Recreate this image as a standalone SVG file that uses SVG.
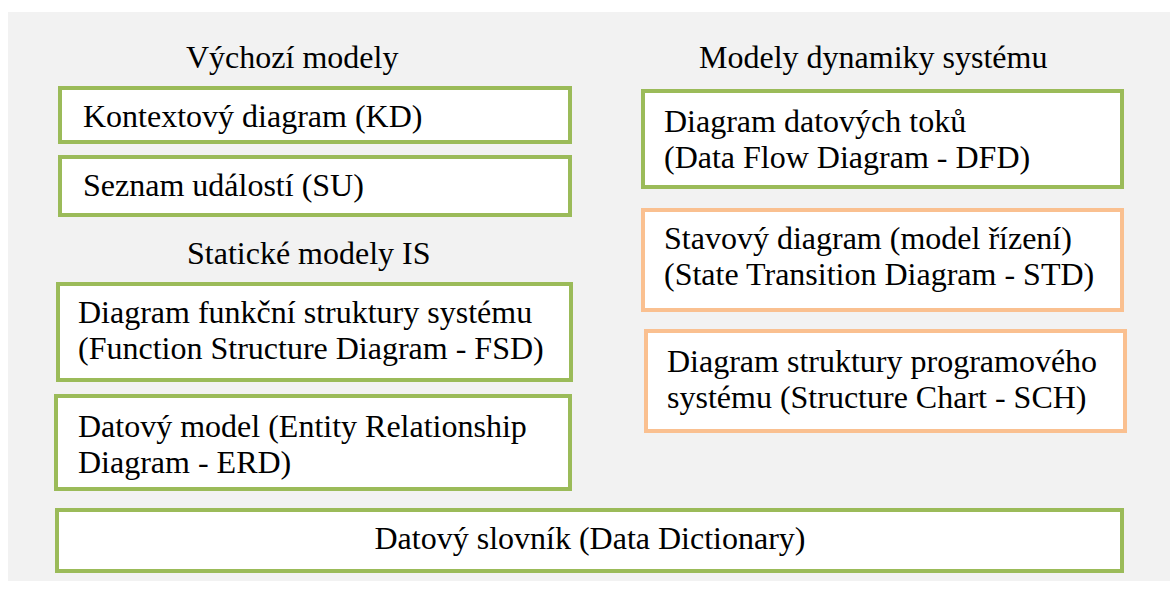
<svg xmlns="http://www.w3.org/2000/svg" width="1170" height="590" viewBox="0 0 1170 590">
<style>
  .t { font-family: 'Liberation Serif', 'Times New Roman', Times, serif; font-size: 32px; fill: #000; }
  .box { fill: #fff; stroke-width: 4; }
  .g { stroke: #9BBB59; }
  .o { stroke: #FAC090; }
  .c { text-anchor: middle; }
</style>
<rect x="0" y="0" width="1170" height="590" fill="#fff"/>
<rect x="8" y="12" width="1162" height="569" fill="#F2F2F2"/>
<g class="t" font-family="Liberation Serif, serif">
<g id="titles">
  <text x="186" y="68">Výchozí modely</text>
  <text x="187" y="264">Statické modely IS</text>
  <text x="699" y="68">Modely dynamiky systému</text>
</g>
<g id="kd">
  <rect class="box g" x="60" y="88" width="510" height="54"/>
  <text x="83" y="127">Kontextový diagram (KD)</text>
</g>
<g id="su">
  <rect class="box g" x="60" y="157" width="510" height="58"/>
  <text x="83" y="196">Seznam událostí (SU)</text>
</g>
<g id="fsd">
  <rect class="box g" x="58" y="284" width="513" height="96"/>
  <text x="78" y="323">Diagram funkční struktury systému</text>
  <text x="78" y="359">(Function Structure Diagram - FSD)</text>
</g>
<g id="erd">
  <rect class="box g" x="56" y="396" width="514" height="93"/>
  <text x="78" y="437">Datový model (Entity Relationship</text>
  <text x="78" y="473">Diagram - ERD)</text>
</g>
<g id="dd">
  <rect class="box g" x="57" y="510" width="1065" height="61"/>
  <text class="c" x="590" y="549">Datový slovník (Data Dictionary)</text>
</g>
<g id="dfd">
  <rect class="box g" x="643" y="91" width="479" height="96"/>
  <text x="664" y="132">Diagram datových toků</text>
  <text x="664" y="168">(Data Flow Diagram - DFD)</text>
</g>
<g id="std">
  <rect class="box o" x="643" y="210" width="479" height="100"/>
  <text x="664" y="249">Stavový diagram (model řízení)</text>
  <text x="664" y="285">(State Transition Diagram - STD)</text>
</g>
<g id="sch">
  <rect class="box o" x="646" y="331" width="479" height="100"/>
  <text x="667" y="372">Diagram struktury programového</text>
  <text x="667" y="408">systému (Structure Chart - SCH)</text>
</g>
</g>
<g id="connectors"></g>
</svg>
